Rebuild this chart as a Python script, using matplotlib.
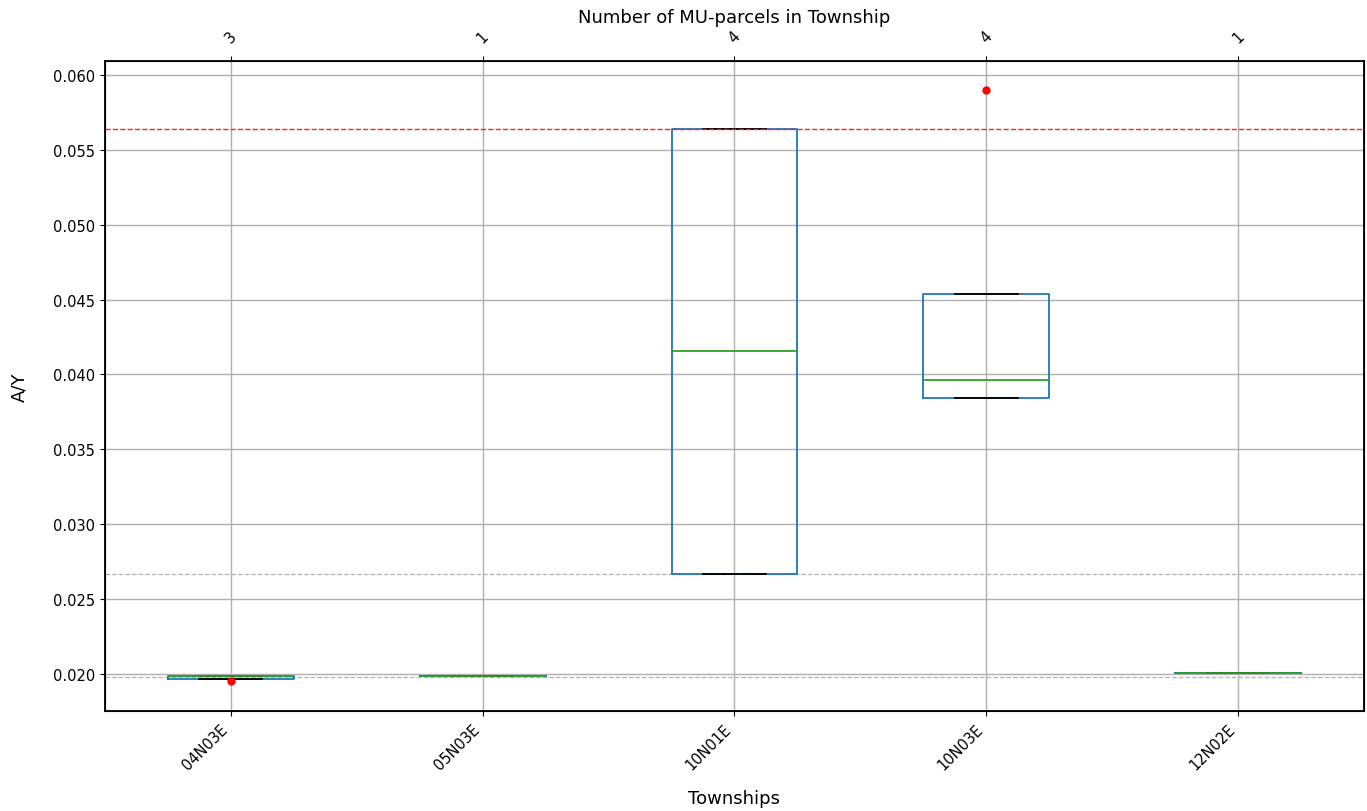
import matplotlib
matplotlib.use("Agg")
import matplotlib.pyplot as plt

townships = ["04N03E", "05N03E", "10N01E", "10N03E", "12N02E"]
counts = ["3", "1", "4", "4", "1"]
q1 = [0.01967, 0.01984, 0.0267, 0.0384, 0.02004]
med = [0.01988, 0.01984, 0.04155, 0.0396, 0.02004]
q3 = [0.01988, 0.01984, 0.0564, 0.0454, 0.02004]
whislo = [0.01967, 0.01984, 0.0267, 0.0384, 0.02004]
whishi = [0.01988, 0.01984, 0.0564, 0.0454, 0.02004]
fliers = [[0.01955], [], [], [0.0590], []]
ref_red = 0.0564
ref_gray = [0.0267, 0.0198]

stats = []
for i, t in enumerate(townships):
    stats.append(dict(label=t, q1=q1[i], med=med[i], q3=q3[i],
                      whislo=whislo[i], whishi=whishi[i], fliers=fliers[i]))

fig = plt.figure(figsize=(13.67, 8.12), dpi=100)
ax = fig.add_axes([0.0768, 0.1232, 0.9210, 0.8004])

ax.bxp(stats, widths=0.5, showfliers=True,
       boxprops=dict(color="#1f77b4", linewidth=1.3),
       whiskerprops=dict(color="#1f77b4", linewidth=1.3),
       capprops=dict(color="black", linewidth=1.3),
       medianprops=dict(color="#2ca02c", linewidth=1.3),
       flierprops=dict(marker="o", markerfacecolor="red", markeredgecolor="red",
                       markersize=5, linestyle="none"))

ax.axhline(ref_red, color="#ff2020", linestyle="--", linewidth=1.0, zorder=3)
for g in ref_gray:
    ax.axhline(g, color="#b0b0b0", linestyle="--", linewidth=0.9, zorder=1)

ax.set_xlim(0.5, 5.5)
ax.set_ylim(0.01753, 0.06093)
ax.grid(True, color="#b0b0b0", linewidth=1)
ax.set_axisbelow(True)
for s in ax.spines.values():
    s.set_linewidth(1.3)
ax.set_xticks(range(1, 6))
ax.set_xticklabels(townships, rotation=45, ha="right", fontsize=10.5)
ax.set_yticks([0.020, 0.025, 0.030, 0.035, 0.040, 0.045, 0.050, 0.055, 0.060])
ax.set_yticklabels(["%.3f" % v for v in ax.get_yticks()], fontsize=10.5)
ax.set_xlabel("Townships", fontsize=13, labelpad=12)
ax.set_ylabel("A/Y", fontsize=13, labelpad=18)

ax2 = ax.twiny()
ax2.set_xlim(ax.get_xlim())
ax2.set_xticks(range(1, 6))
ax2.set_xticklabels(counts, rotation=45, fontsize=10.5)
ax2.tick_params(axis="x", pad=8)
ax2.set_xlabel("Number of MU-parcels in Township", fontsize=13, labelpad=4)

fig.savefig("out.png", dpi=100)
